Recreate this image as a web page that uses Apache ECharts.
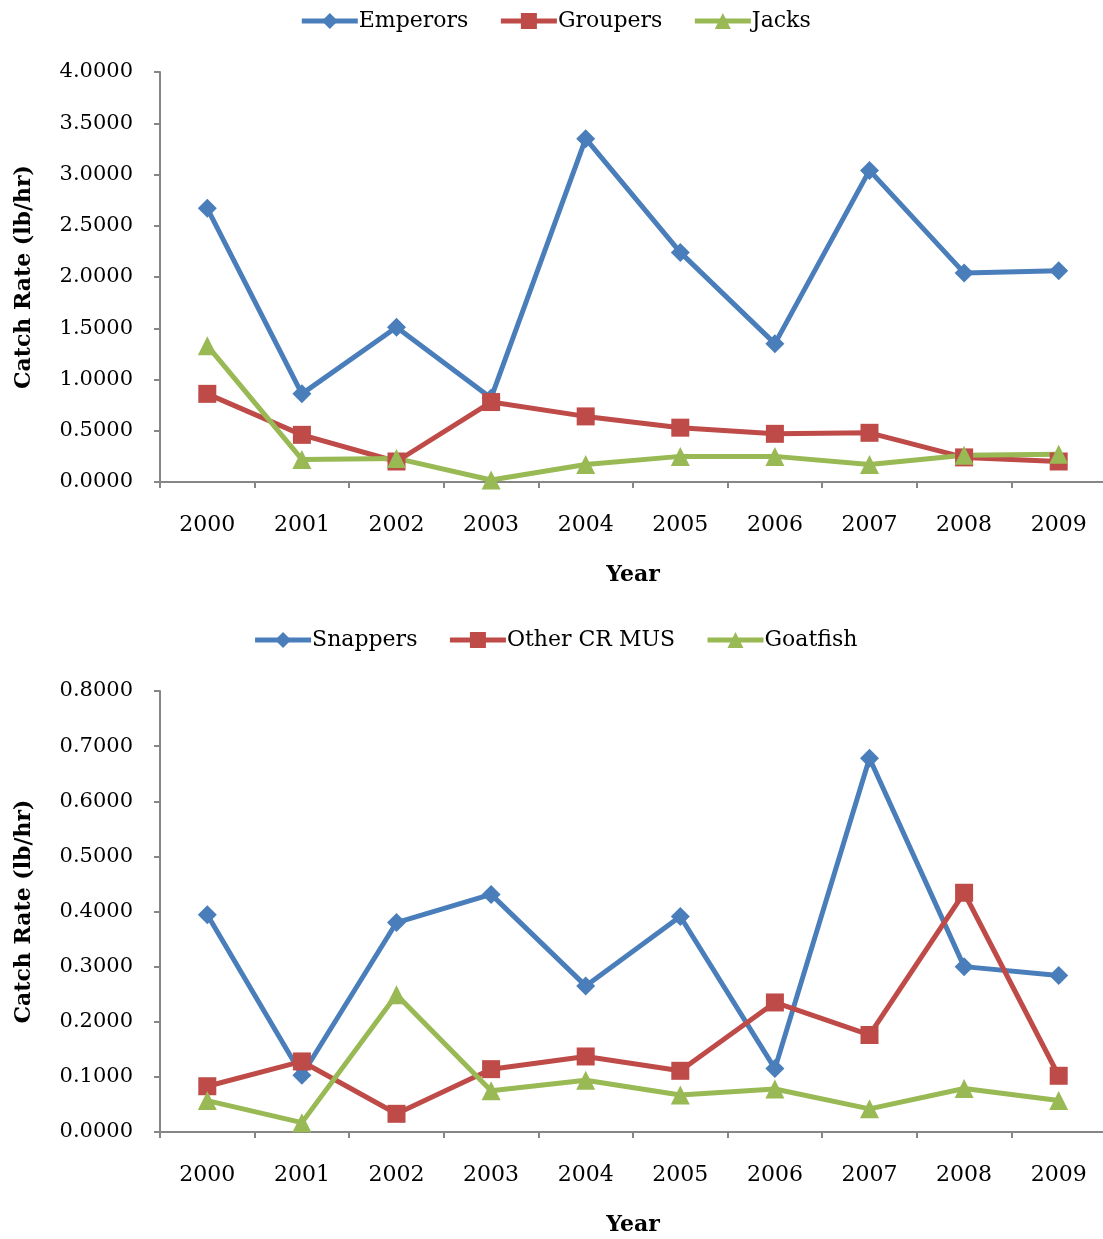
<!DOCTYPE html>
<html>
<head>
<meta charset="utf-8">
<script src="https://cdn.jsdelivr.net/npm/echarts@6/dist/echarts.min.js"></script>
<style>
  html, body { margin: 0; padding: 0; background: #ffffff; overflow: hidden; }
  #chart { width: 1110px; height: 1239px; }
</style>
</head>
<body>
<div id="chart"></div>
<script>
// Catch rates (lb/hr) by year
const years = ['2000', '2001', '2002', '2003', '2004', '2005', '2006', '2007', '2008', '2009'];

// Upper panel
const emperors = [2.67, 0.86, 1.51, 0.82, 3.35, 2.24, 1.35, 3.04, 2.04, 2.06];
const groupers = [0.86, 0.46, 0.20, 0.78, 0.64, 0.53, 0.47, 0.48, 0.24, 0.20];
const jacks    = [1.33, 0.22, 0.23, 0.02, 0.17, 0.25, 0.25, 0.17, 0.26, 0.27];

// Lower panel
const snappers = [0.394, 0.103, 0.380, 0.431, 0.265, 0.391, 0.115, 0.678, 0.300, 0.284];
const otherCR  = [0.083, 0.128, 0.033, 0.114, 0.137, 0.111, 0.235, 0.176, 0.434, 0.102];
const goatfish = [0.057, 0.017, 0.249, 0.075, 0.094, 0.067, 0.078, 0.042, 0.079, 0.057];

const FONT = 'DejaVu Serif';
const BLUE = '#4a7ebb', RED = '#be4b48', GREEN = '#98b954';
const AXIS_GREY = '#868686';

function xAxisFor(gridIndex) {
  return {
    type: 'category',
    gridIndex: gridIndex,
    data: years,
    boundaryGap: true,
    name: 'Year',
    nameLocation: 'middle',
    nameGap: 82,
    nameTextStyle: { fontFamily: FONT, fontSize: 22, fontWeight: 'bold', color: '#000' },
    axisLine: { show: true, lineStyle: { color: AXIS_GREY, width: 2 } },
    axisTick: { show: true, length: 6, lineStyle: { color: AXIS_GREY, width: 2 } },
    axisLabel: { fontFamily: FONT, fontSize: 22, color: '#000', margin: 32 },
    splitLine: { show: false }
  };
}

function yAxisFor(gridIndex, max, interval) {
  return {
    type: 'value',
    gridIndex: gridIndex,
    min: 0,
    max: max,
    interval: interval,
    name: 'Catch Rate (lb/hr)',
    nameLocation: 'middle',
    nameGap: 125,
    nameRotate: 90,
    nameTextStyle: { fontFamily: FONT, fontSize: 22, fontWeight: 'bold', color: '#000' },
    axisLine: { show: true, lineStyle: { color: AXIS_GREY, width: 2 } },
    axisTick: { show: true, length: 6, lineStyle: { color: AXIS_GREY, width: 2 } },
    axisLabel: {
      fontFamily: FONT, fontSize: 21, color: '#000', margin: 27,
      formatter: v => v.toFixed(4)
    },
    splitLine: { show: false }
  };
}

function lineSeries(name, data, color, symbol, size, xi, yi) {
  return {
    name: name,
    type: 'line',
    xAxisIndex: xi,
    yAxisIndex: yi,
    data: data,
    symbol: symbol,
    symbolSize: size,
    showAllSymbol: true,
    lineStyle: { color: color, width: 5 },
    itemStyle: { color: color, borderWidth: 0 },
    emphasis: { disabled: true },
    animation: false
  };
}

const legendBase = {
  left: 'center',
  itemWidth: 56,
  itemHeight: 20,
  itemGap: 30,
  lineStyle: { width: 5 },
  textStyle: { fontFamily: FONT, fontSize: 22, color: '#000', padding: [0, 0, 0, -4] }
};

const chart = echarts.init(document.getElementById('chart'), null, { renderer: 'canvas' });
chart.setOption({
  backgroundColor: '#ffffff',
  animation: false,
  legend: [
    Object.assign({}, legendBase, { top: 5, data: ['Emperors', 'Groupers', 'Jacks'] }),
    Object.assign({}, legendBase, { top: 624, data: ['Snappers', 'Other CR MUS', 'Goatfish'] })
  ],
  grid: [
    { left: 160, width: 946, top: 72, height: 410, containLabel: false },
    { left: 160, width: 946, top: 691, height: 441, containLabel: false }
  ],
  xAxis: [xAxisFor(0), xAxisFor(1)],
  yAxis: [yAxisFor(0, 4, 0.5), yAxisFor(1, 0.8, 0.1)],
  series: [
    lineSeries('Emperors', emperors, BLUE, 'diamond', 19, 0, 0),
    lineSeries('Groupers', groupers, RED, 'rect', 18, 0, 0),
    lineSeries('Jacks', jacks, GREEN, 'triangle', 19, 0, 0),
    lineSeries('Snappers', snappers, BLUE, 'diamond', 19, 1, 1),
    lineSeries('Other CR MUS', otherCR, RED, 'rect', 18, 1, 1),
    lineSeries('Goatfish', goatfish, GREEN, 'triangle', 19, 1, 1)
  ]
});
</script>
</body>
</html>
